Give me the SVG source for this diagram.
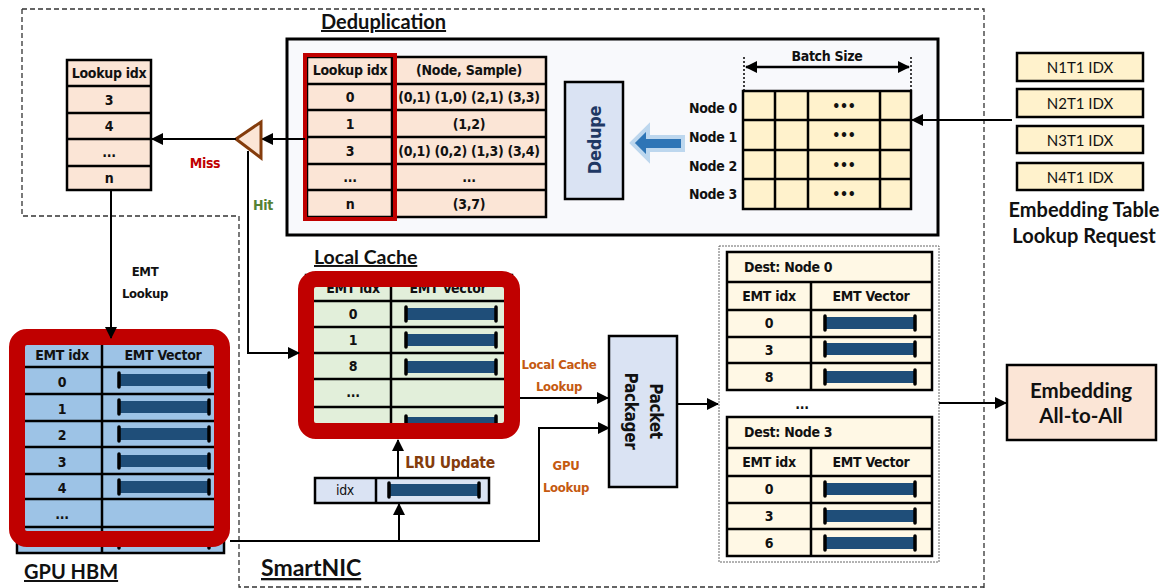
<svg xmlns="http://www.w3.org/2000/svg" xmlns:xlink="http://www.w3.org/1999/xlink" width="1161" height="588" viewBox="0 0 1161 588">
<style>
.c{font-family:"DejaVu Sans Condensed","DejaVu Sans",sans-serif;font-stretch:condensed;font-weight:bold;font-size:14px;letter-spacing:-0.3px;text-anchor:middle;dominant-baseline:central;fill:#111}
.t{font-family:Lato,"Open Sans",sans-serif;font-weight:bold;text-decoration:underline;fill:#111}
.b{font-family:Lato,"Open Sans",sans-serif;font-weight:bold;fill:#111;text-anchor:middle;dominant-baseline:central}
.r{font-family:Lato,"Open Sans",sans-serif;font-size:15px;fill:#111;text-anchor:middle;dominant-baseline:central}
.cell{stroke:#000;stroke-width:2.5}
.ln{fill:none;stroke:#000;stroke-width:2}
.redbox{fill:none;stroke:#C00000;stroke-width:16}
</style>
<defs>
<marker id="ah" markerUnits="userSpaceOnUse" markerWidth="12" markerHeight="12" refX="11" refY="6" orient="auto-start-reverse" viewBox="0 0 12 12"><path d="M0,0 L12,6 L0,12 z" fill="#000"/></marker>
<g id="vec"><rect x="2" y="-6" width="90" height="12" fill="#1F4E79"/><path d="M2,-7 V7 M92,-7 V7" stroke="#000" stroke-width="3.5" stroke-linecap="round"/></g>
</defs>

<!-- dashed boundary -->
<path d="M22,9 H984 V588 M22,9 V216 H239 V587 H984" fill="none" stroke="#333" stroke-width="1.3" stroke-dasharray="5,3"/>

<!-- left lookup table -->
<g id="missTable">
<rect x="67" y="60" width="84" height="130" fill="#FBE5D6" class="cell"/>
<path d="M67,86 H151 M67,113 H151 M67,139 H151 M67,166 H151" class="cell"/>
<text class="c" x="109" y="73">Lookup idx</text>
<text class="c" x="109" y="100">3</text>
<text class="c" x="109" y="126">4</text>
<text class="c" x="109" y="152">...</text>
<text class="c" x="109" y="178">n</text>
</g>

<!-- deduplication -->
<g id="dedup">
<text class="t" x="321" y="29" style="font-size:20px">Deduplication</text>
<rect x="287" y="39" width="651" height="196" fill="#F8F9FC" stroke="#000" stroke-width="3"/>
<rect x="307" y="57" width="239" height="160" fill="#FBE5D6" class="cell"/>
<path d="M307,84 H546 M307,110 H546 M307,137 H546 M307,164 H546 M307,190 H546 M392,57 V217" class="cell"/>
<text class="c" x="350" y="70">Lookup idx</text>
<text class="c" x="469" y="70">(Node, Sample)</text>
<text class="c" x="350" y="97">0</text>
<text class="c" x="469" y="97">(0,1) (1,0) (2,1) (3,3)</text>
<text class="c" x="350" y="124">1</text>
<text class="c" x="469" y="124">(1,2)</text>
<text class="c" x="350" y="151">3</text>
<text class="c" x="469" y="151">(0,1) (0,2) (1,3) (3,4)</text>
<text class="c" x="350" y="177">...</text>
<text class="c" x="469" y="177">...</text>
<text class="c" x="350" y="204">n</text>
<text class="c" x="469" y="204">(3,7)</text>
<rect x="305" y="55" width="90" height="164" fill="none" stroke="#C00000" stroke-width="4"/>
</g>

<g id="dedupe">
<rect x="565" y="82" width="58" height="117" fill="#DAE3F3" stroke="#000" stroke-width="2.5"/>
<text class="c" transform="translate(594,140) rotate(-90)" style="font-size:18px;fill:#1F3864">Dedupe</text>
</g>
<path id="blockArrow" d="M632,143 L648,127 L648,137 L683,137 L683,150 L648,150 L648,159 Z" fill="#2E75B6" stroke="#BDD7EE" stroke-width="4" stroke-linejoin="miter"/>

<g id="batch">
<text class="c" x="827" y="56">Batch Size</text>
<path d="M744,57 V91 M911,57 V91" stroke="#000" stroke-width="1.5" stroke-dasharray="2,2"/>
<path d="M746,67 H909" stroke="#000" stroke-width="2.5" marker-start="url(#ah)" marker-end="url(#ah)"/>
<text class="c" x="737" y="108" style="text-anchor:end">Node 0</text>
<text class="c" x="737" y="137" style="text-anchor:end">Node 1</text>
<text class="c" x="737" y="166" style="text-anchor:end">Node 2</text>
<text class="c" x="737" y="194" style="text-anchor:end">Node 3</text>
<rect x="743" y="91" width="168" height="118" fill="#FFF2CC" class="cell"/>
<path d="M743,120 H911 M743,150 H911 M743,179 H911 M775,91 V209 M808,91 V209 M880,91 V209" class="cell"/>
<text class="c" x="844" y="106">•••</text>
<text class="c" x="844" y="135">•••</text>
<text class="c" x="844" y="165">•••</text>
<text class="c" x="844" y="194">•••</text>
</g>

<g id="requests">
<rect x="1017" y="53" width="126" height="28" fill="#FFF2CC" class="cell"/>
<rect x="1017" y="89" width="126" height="28" fill="#FFF2CC" class="cell"/>
<rect x="1017" y="126" width="126" height="27" fill="#FFF2CC" class="cell"/>
<rect x="1017" y="163" width="126" height="27" fill="#FFF2CC" class="cell"/>
<text class="r" x="1080" y="67">N1T1 IDX</text>
<text class="r" x="1080" y="103">N2T1 IDX</text>
<text class="r" x="1080" y="139.5">N3T1 IDX</text>
<text class="r" x="1080" y="176.5">N4T1 IDX</text>
<text class="b" x="1084" y="209" style="font-size:20px">Embedding Table</text>
<text class="b" x="1084" y="235" style="font-size:20px">Lookup Request</text>
</g>

<!-- GPU HBM -->
<g id="gpuHBM">
<rect x="17" y="340" width="207" height="213" fill="#9DC3E6" class="cell"/>
<path d="M17,367 H224 M17,394 H224 M17,421 H224 M17,447 H224 M17,474 H224 M17,499 H224 M17,527 H224 M102,340 V553" class="cell"/>
<text class="c" x="62" y="355">EMT idx</text>
<text class="c" x="163" y="355">EMT Vector</text>
<text class="c" x="62" y="382">0</text>
<text class="c" x="62" y="409">1</text>
<text class="c" x="62" y="435">2</text>
<text class="c" x="62" y="462">3</text>
<text class="c" x="62" y="488">4</text>
<text class="c" x="62" y="514">...</text>
<use xlink:href="#vec" x="117" y="380"/>
<use xlink:href="#vec" x="117" y="407"/>
<use xlink:href="#vec" x="117" y="434"/>
<use xlink:href="#vec" x="117" y="461"/>
<use xlink:href="#vec" x="117" y="487"/>
<use xlink:href="#vec" x="117" y="541"/>
<rect x="17" y="337" width="205" height="202" rx="10" class="redbox"/>
<text class="t" x="24" y="579" style="font-size:20px">GPU HBM</text>
</g>

<!-- Local cache -->
<g id="localCache">
<text class="t" x="314" y="264" style="font-size:19.5px">Local Cache</text>
<rect x="306" y="275" width="206" height="158" fill="#E2EFDA" class="cell"/>
<path d="M306,301 H512 M306,327 H512 M306,353 H512 M306,379 H512 M306,407 H512 M391,275 V433" class="cell"/>
<text class="c" x="353" y="288">EMT idx</text>
<text class="c" x="448" y="288">EMT Vector</text>
<text class="c" x="353" y="314">0</text>
<text class="c" x="353" y="340">1</text>
<text class="c" x="353" y="366">8</text>
<text class="c" x="353" y="392">...</text>
<text class="c" x="353" y="426">n</text>
<use xlink:href="#vec" x="404" y="314"/>
<use xlink:href="#vec" x="404" y="340"/>
<use xlink:href="#vec" x="404" y="367"/>
<use xlink:href="#vec" x="404" y="423"/>
<rect x="306" y="279" width="206" height="152" rx="10" class="redbox"/>
</g>

<g id="idxBox">
<rect x="315" y="478" width="174" height="25" fill="#DAE3F3" class="cell"/>
<path d="M376,478 V503" class="cell"/>
<text class="c" x="345" y="490" style="font-weight:normal">idx</text>
<use xlink:href="#vec" x="387" y="490"/>
</g>

<g id="packager">
<rect x="609" y="336" width="68" height="151" fill="#DAE3F3" class="cell"/>
<text class="c" transform="translate(656,411) rotate(90)" style="font-size:17px">Packet</text>
<text class="c" transform="translate(631,411) rotate(90)" style="font-size:17px">Packager</text>
</g>

<g id="dest">
<rect x="719" y="246" width="220" height="316" fill="none" stroke="#666" stroke-width="1" stroke-dasharray="2,1"/>
<rect x="727" y="252" width="205" height="138" fill="#FFF8E5" class="cell"/>
<path d="M727,282 H932 M727,310 H932 M727,337 H932 M727,363 H932 M811,282 V390" class="cell"/>
<text class="c" x="744" y="267" style="text-anchor:start">Dest: Node 0</text>
<text class="c" x="769" y="296">EMT idx</text>
<text class="c" x="871" y="296">EMT Vector</text>
<text class="c" x="769" y="323">0</text>
<text class="c" x="769" y="350">3</text>
<text class="c" x="769" y="377">8</text>
<use xlink:href="#vec" x="823" y="323"/>
<use xlink:href="#vec" x="823" y="349"/>
<use xlink:href="#vec" x="823" y="377"/>
<text class="c" x="802" y="404">...</text>
<rect x="727" y="417" width="205" height="139" fill="#FFF8E5" class="cell"/>
<path d="M727,448 H932 M727,476 H932 M727,503 H932 M727,529 H932 M811,448 V556" class="cell"/>
<text class="c" x="744" y="432" style="text-anchor:start">Dest: Node 3</text>
<text class="c" x="769" y="462">EMT idx</text>
<text class="c" x="871" y="462">EMT Vector</text>
<text class="c" x="769" y="489">0</text>
<text class="c" x="769" y="516">3</text>
<text class="c" x="769" y="543">6</text>
<use xlink:href="#vec" x="823" y="489"/>
<use xlink:href="#vec" x="823" y="516"/>
<use xlink:href="#vec" x="823" y="543"/>
</g>

<g id="allToAll">
<rect x="1007" y="365" width="149" height="75" fill="#FBE5D6" class="cell"/>
<text class="b" x="1081" y="390" style="font-size:20.5px">Embedding</text>
<text class="b" x="1081" y="415" style="font-size:20.5px">All-to-All</text>
</g>

<g id="connectors">
<path d="M305,139 H262" class="ln" stroke-width="2.5" marker-end="url(#ah)"/>
<polygon id="hitMiss" points="236,139 261,122 261,158" fill="#FBE5D6" stroke="#843C0C" stroke-width="3" stroke-linejoin="miter"/>
<path d="M236,139 H152" class="ln" stroke-width="2.5" marker-end="url(#ah)"/>
<path d="M248,151 V353 H299" class="ln" stroke-width="2.5" marker-end="url(#ah)"/>
<path d="M111,190 V338" class="ln" stroke-width="2.5" marker-end="url(#ah)"/>
<path d="M1012,120 H912" class="ln" stroke-width="3" marker-end="url(#ah)"/>
<path d="M398,478 V440" class="ln" stroke-width="2" marker-end="url(#ah)"/>
<path d="M230,541 H539 V428 H609" class="ln" stroke-width="2.5" marker-end="url(#ah)"/>
<path d="M399,541 V504" class="ln" stroke-width="2.5" marker-end="url(#ah)"/>
<path d="M520,398 H608" class="ln" stroke-width="2.5" marker-end="url(#ah)"/>
<path d="M677,404 H718" class="ln" stroke-width="2.5" marker-end="url(#ah)"/>
<path d="M939,403 H1006" class="ln" stroke-width="3.5" marker-end="url(#ah)"/>
</g>

<g id="labels">
<text class="c" x="205" y="163" style="font-size:14px;fill:#C00000">Miss</text>
<text class="c" x="263" y="205" style="font-size:14px;fill:#548235">Hit</text>
<text class="c" x="145" y="271" style="font-size:13px">EMT</text>
<text class="c" x="145" y="293" style="font-size:13px">Lookup</text>
<text class="c" x="559" y="364" style="font-size:13px;fill:#C55A11">Local Cache</text>
<text class="c" x="559" y="386" style="font-size:13px;fill:#C55A11">Lookup</text>
<text class="c" x="566" y="465" style="font-size:13px;fill:#C55A11">GPU</text>
<text class="c" x="566" y="487" style="font-size:13px;fill:#C55A11">Lookup</text>
<text class="c" x="450" y="463" style="font-size:15.5px;fill:#843C0C">LRU Update</text>
<text class="t" x="261" y="576" style="font-size:23px">SmartNIC</text>
</g>
</svg>
